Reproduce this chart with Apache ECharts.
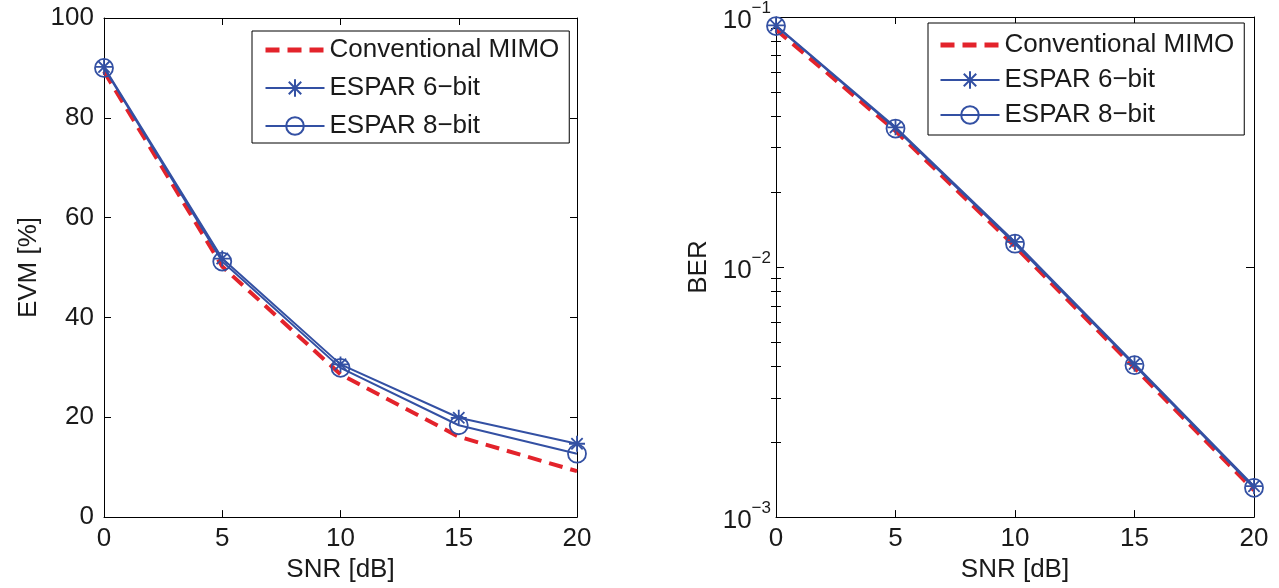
<!DOCTYPE html>
<html><head><meta charset="utf-8">
<script src="https://cdn.jsdelivr.net/npm/echarts@6/dist/echarts.min.js"></script>
<style>html,body{margin:0;padding:0;background:#fff}#c{width:1279px;height:588px}</style>
</head><body><div id="c"></div>
<script>
const snr = [0, 5, 10, 15, 20];
const evmConv = [89.3, 50.2, 28.6, 16.1, 9.2];
const evm6 = [90.2, 51.8, 30.6, 19.9, 14.7];
const evm8 = [90.0, 51.2, 29.9, 18.4, 12.7];
const berConv = [0.0890, 0.0350, 0.0121, 0.00395, 0.00128];
const ber6 = [0.0925, 0.0362, 0.0126, 0.00410, 0.00133];
const ber8 = [0.0920, 0.0358, 0.0124, 0.00405, 0.00131];
const seriesNames = ['Conventional MIMO', 'ESPAR 6\u2212bit', 'ESPAR 8\u2212bit'];
const minorLogTicks = [0.002,0.003,0.004,0.005,0.006,0.007,0.008,0.009,0.02,0.03,0.04,0.05,0.06,0.07,0.08,0.09];

const FONT = 'Liberation Sans';
const BLUE = '#3350a3';
const RED = '#e3232b';
const TXT = '#1a1a1a';
const pairs = (ys) => snr.map((x, i) => [x, ys[i]]);
const ASTER = 'path://M0,-10L0,10M-10,0L10,0M-7.07,-7.07L7.07,7.07M-7.07,7.07L7.07,-7.07';
const DASH = [14, 8];

const axisLine = {show: true, onZero: false, lineStyle: {color: '#000', width: 1}};
const tickIn = (len) => ({show: true, inside: true, length: len, lineStyle: {color: '#000', width: 1}});
const lab = {color: TXT, fontFamily: FONT, fontSize: 26};
const nameStyle = {color: TXT, fontFamily: FONT, fontSize: 26};

function xAxes(gi) {
  return [
    {gridIndex: gi, type: 'value', min: 0, max: 20, interval: 5, position: 'bottom',
     axisLine, axisTick: tickIn(7), splitLine: {show: false},
     axisLabel: Object.assign({margin: 9}, lab),
     name: 'SNR [dB]', nameLocation: 'middle', nameGap: 36, nameTextStyle: nameStyle},
    {gridIndex: gi, type: 'value', min: 0, max: 20, interval: 5, position: 'top',
     axisLine, axisTick: tickIn(7), splitLine: {show: false}, axisLabel: {show: false}}
  ];
}

function mkSeries(xi, yi, a, b, c) {
  return [
    {name: seriesNames[0], type: 'line', xAxisIndex: xi, yAxisIndex: yi, data: pairs(a),
     symbol: 'none', lineStyle: {color: RED, width: 4, type: DASH}, itemStyle: {color: 'rgba(0,0,0,0)'}, z: 2},
    {name: seriesNames[1], type: 'line', xAxisIndex: xi, yAxisIndex: yi, data: pairs(b),
     symbol: ASTER, symbolSize: 16,
     lineStyle: {color: BLUE, width: 2}, itemStyle: {color: 'rgba(0,0,0,0)', borderColor: BLUE, borderWidth: 1.8}, z: 3},
    {name: seriesNames[2], type: 'line', xAxisIndex: xi, yAxisIndex: yi, data: pairs(c),
     symbol: 'circle', symbolSize: 18,
     lineStyle: {color: BLUE, width: 2}, itemStyle: {color: 'rgba(0,0,0,0)', borderColor: BLUE, borderWidth: 1.8}, z: 3}
  ];
}

const legendData = [
  {name: seriesNames[0], lineStyle: {width: 5, type: DASH, color: RED}, itemStyle: {color: 'rgba(0,0,0,0)', borderWidth: 0}},
  {name: seriesNames[1], lineStyle: {width: 2, color: BLUE}},
  {name: seriesNames[2], lineStyle: {width: 2, color: BLUE}}
];

const legendBase = {
  orient: 'vertical', itemWidth: 59, itemHeight: 22,
  borderColor: '#000', borderWidth: 1, backgroundColor: '#fff',
  textStyle: {color: TXT, fontFamily: FONT, fontSize: 26},
  data: legendData, selectedMode: false
};

const option = {
  animation: false,
  backgroundColor: '#fff',
  grid: [
    {left: 104, top: 18, width: 473, height: 501},
    {left: 776, top: 13, width: 478, height: 506}
  ],
  legend: [
    Object.assign({}, legendBase, {left: 252, top: 31, itemGap: 12, padding: [6, 10, 4, 11]}),
    Object.assign({}, legendBase, {left: 928, top: 23, itemGap: 9, padding: [9, 10, 7, 10]})
  ],
  xAxis: [...xAxes(0), ...xAxes(1)],
  yAxis: [
    {gridIndex: 0, type: 'value', min: 0, max: 100, interval: 20, position: 'left',
     axisLine, axisTick: tickIn(7), splitLine: {show: false},
     axisLabel: Object.assign({margin: 10}, lab),
     name: 'EVM [%]', nameLocation: 'middle', nameGap: 62, nameRotate: 90, nameTextStyle: nameStyle},
    {gridIndex: 0, type: 'value', min: 0, max: 100, interval: 20, position: 'right',
     axisLine, axisTick: tickIn(7), splitLine: {show: false}, axisLabel: {show: false}},
    {gridIndex: 1, type: 'log', logBase: 10, min: 0.001, max: 0.1, position: 'left',
     axisLine, axisTick: tickIn(8), splitLine: {show: false},
     axisLabel: {margin: 5, formatter: (v) => '{b|10}{s|' + Math.round(Math.log10(v)).toString().replace('-', '\u2212') + '}',
       rich: {b: {color: TXT, fontFamily: FONT, fontSize: 26, verticalAlign: 'bottom', padding: [8, 0, 0, 0]},
              s: {color: TXT, fontFamily: FONT, fontSize: 17, verticalAlign: 'top', padding: [0, 0, 14, 0]}}},
     name: 'BER', nameLocation: 'middle', nameGap: 64, nameRotate: 90, nameTextStyle: nameStyle},
    {gridIndex: 1, type: 'log', logBase: 10, min: 0.001, max: 0.1, position: 'right',
     axisLine, axisTick: tickIn(8), splitLine: {show: false}, axisLabel: {show: false}},
    {gridIndex: 1, type: 'log', logBase: 10, min: 0.001, max: 0.1, position: 'left',
     axisLine: {show: false}, axisTick: Object.assign(tickIn(5), {customValues: minorLogTicks}),
     splitLine: {show: false}, axisLabel: {show: false}},
    {gridIndex: 1, type: 'log', logBase: 10, min: 0.001, max: 0.1, position: 'right',
     axisLine: {show: false}, axisTick: Object.assign(tickIn(5), {customValues: minorLogTicks}),
     splitLine: {show: false}, axisLabel: {show: false}}
  ],
  series: [...mkSeries(0, 0, evmConv, evm6, evm8), ...mkSeries(2, 2, berConv, ber6, ber8)]
};

const chart = echarts.init(document.getElementById('c'), null, {renderer: 'canvas'});
chart.setOption(option);
</script></body></html>
